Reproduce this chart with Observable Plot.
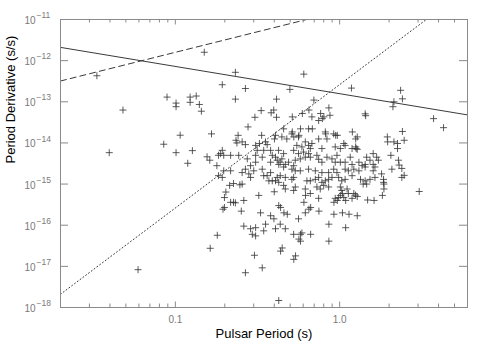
<!DOCTYPE html>
<html><head><meta charset="utf-8">
<script src="https://cdn.jsdelivr.net/npm/d3@7"></script>
<script src="https://cdn.jsdelivr.net/npm/@observablehq/plot@0.6"></script>
<style>body{margin:0;background:#fff;} svg{display:block;}</style>
</head><body><div id="chart"></div>
<script>
// Pulsar periods (s)
const period = [
0.0333,0.150,0.089,0.101,0.101,0.048,0.123,0.123,0.134,0.140,
0.144,0.107,0.085,0.101,0.166,0.0396,0.127,0.119,0.156,0.162,
0.193,0.232,0.232,0.267,0.277,0.605,0.498,0.413,1.18,2.35,
2.41,2.14,2.11,0.697,0.86,3.73,4.29,1.43,1.44,2.41,
0.333,0.397,0.383,0.413,0.305,0.515,0.593,0.650,0.766,0.802,
0.873,0.785,0.515,0.526,0.578,0.682,0.565,0.822,0.946,0.968,
1.195,1.252,1.28,1.252,1.06,1.95,2.14,2.25,2.47,2.25,
2.05,2.3,2.47,3.05,1.82,1.62,1.48,1.86,1.86,1.25,
1.22,1.28,1.01,1.04,0.968,0.923,1.088,1.14,1.28,1.04,
0.923,0.86,1.088,0.86,0.748,0.666,0.65,0.606,0.62,0.578,
0.666,0.565,0.578,0.526,0.539,0.447,0.437,0.426,0.437,0.48,
0.458,0.38,0.33,0.322,0.308,0.338,0.267,0.426,0.0593,0.163,
0.180,0.261,0.252,0.226,0.232,0.195,0.199,0.199,0.203,0.214,
0.226,0.247,0.255,
0.241,0.234,0.237,0.335,0.354,0.325,0.362,0.308,0.407,0.401,
0.255,0.267,0.193,0.188,0.183,0.197,0.217,0.243,0.179,0.274,
0.287,0.308,0.308,0.338,0.315,0.345,0.38,0.389,0.407,0.417,
0.38,0.426,
0.745,0.678,0.456,0.512,0.647,0.445,0.477,0.549,0.562,0.618,
0.647,0.663,0.678,0.589,0.745,0.818,0.837,0.92,
0.78,0.94,
1.01,1.08,1.19,1.26,0.425,0.456,0.445,0.435,0.525,0.562,
0.603,0.647,0.663,0.618,0.576,0.537,0.489,0.467,0.525,0.727,
0.745,0.78,0.837,0.898,0.963,0.94,1.01,1.08,1.16,1.28,
1.19,1.31,1.37,
1.60,1.68,1.46,1.72,1.53,1.60,1.43,2.28,1.96,
0.197,0.217,0.183,0.193,0.255,0.267,0.28,0.287,0.3,0.338,
0.345,0.362,0.38,0.371,0.389,0.407,0.417,0.426,0.217,0.261,
0.398,0.407,0.354,0.345,0.308,0.287,0.294,
0.456,0.512,0.537,0.576,0.647,0.711,0.78,0.857,0.92,0.963,
1.08,1.13,1.22,1.31,0.435,0.467,0.525,0.512,0.632,0.663,
0.711,0.745,0.78,0.818,0.857,0.898,0.986,1.03,1.08,1.19,
1.34,0.456,0.467,0.537,0.525,0.618,0.663,0.727,0.762,0.8,
0.857,1.01,1.03,1.11,1.13,0.94,0.986,1.06,1.19,0.745,
0.618,0.562,0.435,0.467,0.525,0.589,
1.43,1.64,1.6,2.08,2.39,1.80,1.85,1.85,1.64,1.53,
1.43,1.39,1.46,2.39,
0.303,0.40
];
// Period derivatives (s/s)
const pdot = [
4.3e-13,1.6e-12,1.3e-13,9.3e-14,7.6e-14,6.3e-14,1.3e-13,9.7e-14,1.38e-13,8.6e-14,
5.9e-14,1.54e-14,9.3e-15,5.8e-15,1.66e-14,5.8e-15,6.5e-15,3.2e-15,4.6e-15,3.8e-15,
2.6e-13,5.2e-13,1.16e-13,2.1e-13,2.45e-14,4.7e-13,2.0e-13,1.16e-13,2.15e-13,1.9e-13,
1.18e-13,1.0e-13,7.6e-14,1.1e-13,7.1e-14,3.9e-14,2.35e-14,5.1e-14,4.6e-14,1.9e-14,
6.1e-14,6.3e-14,5.4e-14,4.2e-14,4.2e-14,4.3e-14,5.2e-14,6.3e-14,5.2e-14,4.3e-14,
4.7e-14,3.9e-14,1.85e-14,1.4e-14,2.2e-14,2.2e-14,1.53e-14,1.66e-14,1.53e-14,1.53e-14,
1.85e-14,1.25e-14,1.4e-14,8e-15,9.7e-15,1.4e-14,1.06e-14,9.7e-15,1.16e-14,7.3e-15,
5.0e-15,2.9e-15,1.63e-15,6.6e-16,5.3e-16,4e-16,4.1e-16,7.6e-16,1.0e-15,5.4e-16,
5.9e-16,5e-16,5.3e-16,5.9e-16,4e-16,3.6e-16,4e-16,1.85e-16,1.7e-16,2.0e-16,
1.85e-16,1.06e-16,8.7e-17,4.1e-17,2.2e-16,2.7e-16,2.45e-16,3.6e-16,5.3e-16,6e-17,
6e-17,4.6e-17,4.1e-17,1.48e-17,1.8e-17,2.8e-17,2.35e-17,3e-16,2.7e-16,1.85e-16,
2e-16,1.7e-16,2e-16,5.3e-16,5.5e-17,9.2e-18,7e-18,1.48e-18,8.3e-18,2.75e-17,
5.7e-17,9.5e-17,2.2e-16,3.6e-16,3.5e-16,2.45e-16,2.7e-16,4.7e-16,6.4e-16,9.3e-16,
1.03e-15,9.6e-16,1.0e-15,
1.53e-14,1.16e-14,1e-14,1.53e-14,1.06e-14,9.7e-15,9.1e-15,8.7e-15,1.53e-14,1.25e-14,
1.06e-14,9.1e-15,6.6e-15,5.5e-15,5e-15,5e-15,5e-15,5e-15,2.8e-15,4.1e-15,
2.8e-15,5e-15,3.4e-15,4.5e-15,6.6e-15,6.6e-15,6.6e-15,5e-15,4.5e-15,3.8e-15,
3.4e-15,3.0e-15,
3.5e-14,4.3e-14,2.2e-14,1.66e-14,2.2e-14,1.4e-14,1.25e-14,8.7e-15,1.4e-14,1.06e-14,
8.7e-15,7.3e-15,9.7e-15,8e-15,1.25e-14,1.85e-14,1.25e-14,1.66e-14,
7.3e-15,8e-15,
7.3e-15,8.7e-15,7.3e-15,7.3e-15,6.6e-15,5.5e-15,4.1e-15,3.4e-15,6.6e-15,5.5e-15,
6e-15,5.5e-15,4.5e-15,4.5e-15,4.1e-15,3.8e-15,3.4e-15,3.0e-15,2.8e-15,5e-15,
4e-15,3.4e-15,4.5e-15,4.1e-15,5e-15,3.4e-15,3.4e-15,3.4e-15,4.5e-15,7.0e-15,
3e-15,3.4e-15,2.8e-15,
5.5e-15,4.5e-15,4.5e-15,3.8e-15,3.8e-15,3.0e-15,3.0e-15,3.8e-15,1.06e-14,
2.1e-15,2.1e-15,1.6e-15,1.45e-15,1.9e-15,2.3e-15,1.77e-15,1.45e-15,2.1e-15,2.3e-15,
1.6e-15,1.6e-15,1.9e-15,1.2e-15,1.2e-15,1.2e-15,1.45e-15,1.1e-15,3.6e-16,4e-16,
1.43e-16,8.2e-17,1.06e-16,7.3e-17,8.7e-17,8.2e-17,6e-17,
2.6e-15,2.3e-15,2.1e-15,2.1e-15,2.3e-15,2.1e-15,1.9e-15,1.9e-15,2.3e-15,1.9e-15,
2.3e-15,2.1e-15,2.3e-15,2.1e-15,1.6e-15,1.45e-15,1.45e-15,1.3e-15,1.2e-15,1.2e-15,
1.3e-15,1.45e-15,1.1e-15,1.2e-15,1.3e-15,1.45e-15,1.45e-15,1.2e-15,1.3e-15,1.6e-15,
1.3e-15,9.3e-16,7.6e-16,8.5e-16,7e-16,7.6e-16,5.9e-16,8.5e-16,7.6e-16,9.3e-16,
8.5e-16,8.5e-16,7e-16,7.6e-16,5.9e-16,4.5e-16,4.7e-16,4.7e-16,4.5e-16,4.5e-16,
2e-16,1.43e-16,1.06e-16,8.2e-17,6e-17,6.5e-17,
2.6e-15,2.6e-15,2.1e-15,2.3e-15,2.4e-15,1.77e-15,1.3e-15,1.1e-15,1.45e-15,1.3e-15,
1.2e-15,1.0e-15,1.0e-15,1.45e-15,
1.86e-17,6.5e-16
];
// Reference lines (endpoints read at the frame edges)
const solidPeriod = [0.02, 6];
const solidPdot = [2.1e-12, 4.8e-14];
const dashedPeriod = [0.02, 0.63];
const dashedPdot = [3.2e-13, 1e-11];
const dottedPeriod = [0.02, 3.37];
const dottedPdot = [2.1e-18, 1e-11];
// Axes
const xMajorTicks = [0.1, 1];
const xTickLabels = ["0.1", "1.0"];
const xMinorTicks = [0.02,0.03,0.04,0.05,0.06,0.07,0.08,0.09,0.2,0.3,0.4,0.5,0.6,0.7,0.8,0.9,2,3,4,5,6];
const yTicks = [1e-18,1e-17,1e-16,1e-15,1e-14,1e-13,1e-12,1e-11];
const yExponents = ["\u221218","\u221217","\u221216","\u221215","\u221214","\u221213","\u221212","\u221211"];
const xTitle = "Pulsar Period (s)";
const yTitle = "Period Derivative (s/s)";

const W = 485, H = 346, mL = 60, mR = 18, mT = 19, mB = 39;
const pw = W - mL - mR, ph = H - mT - mB;
const axisGray = "#8a8a8a", labelGray = "#7a7a7a", ink = "#3a3a3a";

const pts = period.map((p, i) => ({p, d: pdot[i]}));
const seg = (ps, ds) => ps.map((p, i) => ({p, d: ds[i]}));
const plus = {draw(ctx) { ctx.moveTo(-3.5, 0); ctx.lineTo(3.5, 0); ctx.moveTo(0, -3.5); ctx.lineTo(0, 3.5); }};

const chart = Plot.plot({
  width: W, height: H,
  marginLeft: mL, marginRight: mR, marginTop: mT, marginBottom: mB,
  style: {fontFamily: "'Liberation Sans', Arial, Helvetica, sans-serif", background: "#fff"},
  x: {type: "log", domain: [0.02, 6], axis: null},
  y: {type: "log", domain: [1e-18, 1e-11], axis: null},
  marks: [
    Plot.line(seg(solidPeriod, solidPdot), {x: "p", y: "d", stroke: ink, strokeWidth: 1, clip: true}),
    Plot.line(seg(dashedPeriod, dashedPdot), {x: "p", y: "d", stroke: ink, strokeWidth: 1, strokeDasharray: "6,4", clip: true}),
    Plot.line(seg(dottedPeriod, dottedPdot), {x: "p", y: "d", stroke: ink, strokeWidth: 1, strokeDasharray: "1,2.5", clip: true}),
    Plot.dot(pts, {x: "p", y: "d", symbol: plus, fill: "none", stroke: "#333", strokeWidth: 1, strokeOpacity: 0.8}),
    Plot.ruleX(xMinorTicks, {x: d => d, insetTop: ph - 3.5, stroke: axisGray}),
    Plot.ruleX(xMinorTicks, {x: d => d, insetBottom: ph - 3.5, stroke: axisGray}),
    Plot.ruleX(xMajorTicks, {x: d => d, insetTop: ph - 5.5, stroke: axisGray}),
    Plot.ruleX(xMajorTicks, {x: d => d, insetBottom: ph - 5.5, stroke: axisGray}),
    Plot.ruleY(yTicks, {y: d => d, insetRight: pw - 8, stroke: axisGray}),
    Plot.ruleY(yTicks, {y: d => d, insetLeft: pw - 8, stroke: axisGray}),
    Plot.frame({stroke: axisGray}),
    Plot.text(xMajorTicks, {x: d => d, text: (d, i) => xTickLabels[i], frameAnchor: "bottom", lineAnchor: "bottom", dy: 15, fill: labelGray, fontSize: 10}),
    Plot.text(yTicks, {y: d => d, text: () => "10", frameAnchor: "left", textAnchor: "end", lineAnchor: "bottom", dx: -25, dy: 4.5, fill: labelGray, fontSize: 10}),
    Plot.text(yTicks, {y: d => d, text: (d, i) => yExponents[i], frameAnchor: "left", textAnchor: "start", lineAnchor: "bottom", dx: -24, dy: -1.3, fill: labelGray, fontSize: 8.5}),
    Plot.text([xTitle], {frameAnchor: "bottom", lineAnchor: "bottom", dy: 30, fontSize: 13, fill: "#000"}),
    Plot.text([yTitle], {frameAnchor: "left", rotate: -90, lineAnchor: "bottom", dx: -46, fontSize: 13, fill: "#000"})
  ]
});
document.getElementById("chart").appendChild(chart);
</script>
</body></html>
